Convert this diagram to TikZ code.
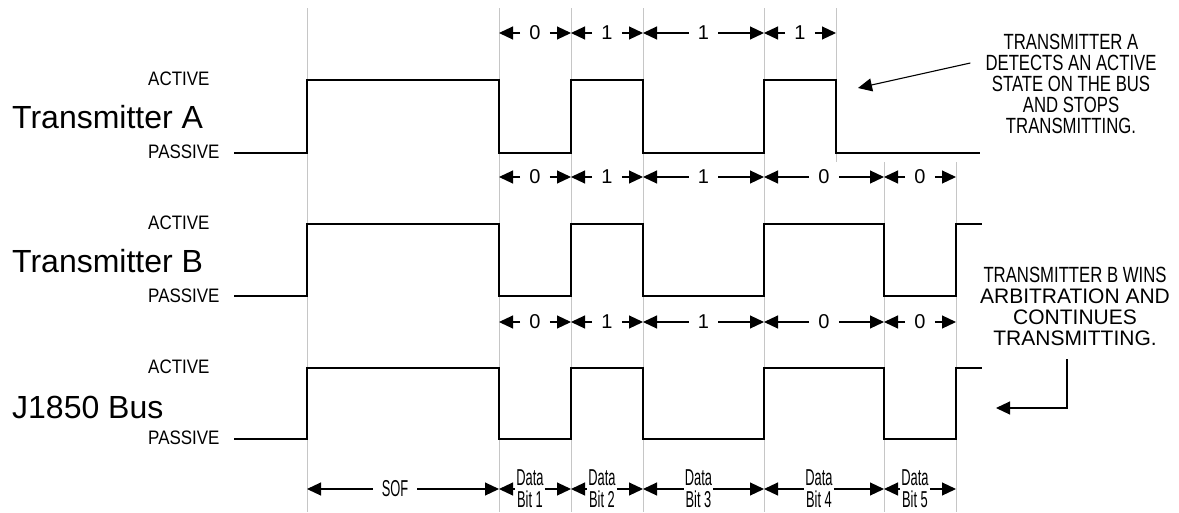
\documentclass[tikz,border=0pt]{standalone}
\usepackage{fontspec}
\setmainfont{Liberation Sans}
\newfontfamily\levelfont[FakeStretch=0.87]{Liberation Sans}
\newfontfamily\notefont[FakeStretch=0.76]{Liberation Sans}
\newfontfamily\cellfont[FakeStretch=0.56]{Liberation Sans}
\usetikzlibrary{arrows.meta,calc}

\tikzset{
  gridline/.style={gray!45, line width=1pt},
  wave/.style={black, line width=1.3pt},
  dimarrow/.style={-{Triangle[length=14pt,width=13pt]}, line width=1.1pt},
  bitval/.style={font=\fontsize{20}{22}\selectfont, inner xsep=9pt, inner ysep=0pt},
  cellval/.style={font=\cellfont\fontsize{23}{22}\selectfont, align=center, inner xsep=1pt, inner ysep=0pt},
  siglabel/.style={font=\fontsize{32}{36}\selectfont, anchor=west, inner sep=0pt},
  levellabel/.style={font=\levelfont\fontsize{19.5}{22}\selectfont, anchor=west, inner sep=0pt},
  note/.style={align=center, inner sep=0pt}
}

\begin{document}
\begin{tikzpicture}[x=1pt, y=-1pt]
\useasboundingbox (0,0) rectangle (1179,512);
% Bit boundaries
\foreach \n/\x in {0/307,1/499,2/571,3/643,4/764,5/836,6/884,7/956}
  \coordinate (t\n) at (\x,0);
\foreach \n in {0,1,2,3,4}
  \draw[gridline] ($(t\n)+(0,8)$) -- ($(t\n)+(0,512)$);
\draw[gridline] ($(t5)+(0,8)$) -- ($(t5)+(0,162)$);
\foreach \n in {6,7}
  \draw[gridline] ($(t\n)+(0,162)$) -- ($(t\n)+(0,512)$);

% Signal names and levels
\node[siglabel] (nameA) at (12,117) {Transmitter A};
\node[levellabel] (actA) at (148,79) {ACTIVE};
\node[levellabel] (pasA) at (148,152) {PASSIVE};
\node[siglabel] (nameB) at (12,261) {Transmitter B};
\node[levellabel] (actB) at (148,223) {ACTIVE};
\node[levellabel] (pasB) at (148,296) {PASSIVE};
\node[siglabel] (nameBus) at (12,407) {J1850 Bus};
\node[levellabel] (actBus) at (148,367) {ACTIVE};
\node[levellabel] (pasBus) at (148,438) {PASSIVE};

% Waveforms
\draw[wave] (234,153) -- (307,153) -- (307,80) -- (499,80) -- (499,153)
  -- (571,153) -- (571,80) -- (643,80) -- (643,153) -- (764,153)
  -- (764,80) -- (836,80) -- (836,153) -- (980,153);
\draw[wave] (234,296) -- (307,296) -- (307,224) -- (499,224) -- (499,296)
  -- (571,296) -- (571,224) -- (643,224) -- (643,296) -- (764,296)
  -- (764,224) -- (884,224) -- (884,296) -- (956,296) -- (956,224) -- (982,224);
\draw[wave] (234,439) -- (307,439) -- (307,368) -- (499,368) -- (499,439)
  -- (571,439) -- (571,368) -- (643,368) -- (643,439) -- (764,439)
  -- (764,368) -- (884,368) -- (884,439) -- (956,439) -- (956,368) -- (982,368);

% Bit values of Transmitter A
\foreach \l/\r/\v [count=\i] in {1/2/0, 2/3/1, 3/4/1, 4/5/1} {
  \node[bitval] (ra\i) at ($(t\l)!0.5!(t\r)+(0,33)$) {\v};
  \draw[dimarrow] (ra\i) -- (ra\i -| t\l);
  \draw[dimarrow] (ra\i) -- (ra\i -| t\r);
}
% Bit values of Transmitter B and of the bus
\foreach \y/\row in {177/rb, 322/rc}
  \foreach \l/\r/\v [count=\i] in {1/2/0, 2/3/1, 3/4/1, 4/6/0, 6/7/0} {
    \node[bitval] (\row\i) at ($(t\l)!0.5!(t\r)+(0,\y)$) {\v};
    \draw[dimarrow] (\row\i) -- (\row\i -| t\l);
    \draw[dimarrow] (\row\i) -- (\row\i -| t\r);
  }

% Frame fields
\node[cellval, inner xsep=9pt, xshift=-8pt] (sof) at ($(t0)!0.5!(t1)+(0,489)$) {SOF};
\draw[dimarrow] (sof) -- (sof -| t0);
\draw[dimarrow] (sof) -- (sof -| t1);
\foreach \l/\r/\v [count=\i] in {1/2/1, 2/3/2, 3/4/3, 4/6/4, 6/7/5} {
  \node[cellval, xshift=-5pt] (rd\i) at ($(t\l)!0.5!(t\r)+(0,489)$) {Data\\Bit \v};
  \draw[dimarrow] (rd\i) -- (rd\i -| t\l);
  \draw[dimarrow] (rd\i) -- (rd\i -| t\r);
}

% Notes
\node[note, font=\notefont\fontsize{22}{21}\selectfont] (noteA) at (1071,84)
  {TRANSMITTER A\\DETECTS AN ACTIVE\\STATE ON THE BUS\\AND STOPS\\TRANSMITTING.};
\coordinate (tipA) at (858,88);
\draw[dimarrow] ([shift={(-15pt,21pt)}]noteA.west) -- (tipA);

\node[note, font=\fontsize{21}{21}\selectfont] (noteB) at (1075,306)
  {{\notefont\fontsize{22}{21}\selectfont TRANSMITTER B WINS}\\ARBITRATION AND\\CONTINUES\\TRANSMITTING.};
\coordinate (tipB) at (996,408);
\draw[dimarrow] ([xshift=-8pt,yshift=-14pt]noteB.south) |- (tipB);
\end{tikzpicture}
\end{document}
